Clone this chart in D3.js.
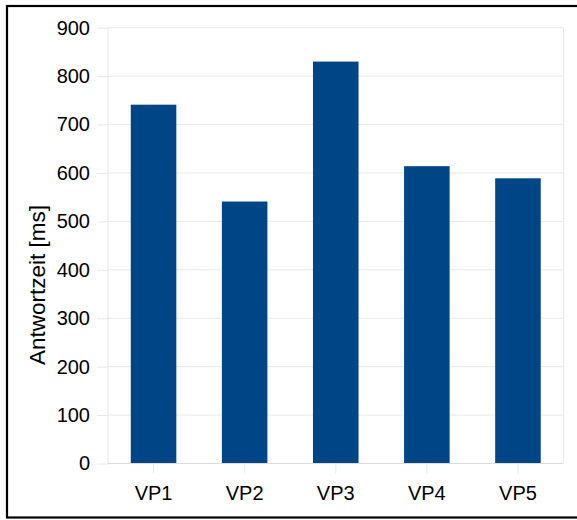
<!DOCTYPE html>
<html>
<head>
<meta charset="utf-8">
<script src="https://cdn.jsdelivr.net/npm/d3@7"></script>
<style>
  html, body { margin: 0; padding: 0; background: #fff; }
  svg { display: block; }
  text { font-family: "Liberation Sans", Arial, sans-serif; }
</style>
</head>
<body>
<svg id="chart" width="577" height="520"></svg>
<script>
const categories = ["VP1", "VP2", "VP3", "VP4", "VP5"];
const values = [741, 541, 830, 614, 589];
const yTicks = [0, 100, 200, 300, 400, 500, 600, 700, 800, 900];
const yLabel = "Antwortzeit [ms]";

const svg = d3.select("#chart");
const plot = { left: 108, right: 563.5, top: 27.7, bottom: 463.5 };

// Outer frame (right edge lies beyond visible area)
svg.append("rect")
  .attr("x", 7).attr("y", 6)
  .attr("width", 590).attr("height", 511.5)
  .attr("fill", "none").attr("stroke", "#000").attr("stroke-width", 2.2);

const x = d3.scaleBand().domain(categories)
  .range([plot.left, plot.right]).paddingInner(0.5).paddingOuter(0.25);
const y = d3.scaleLinear().domain([0, 900]).range([plot.bottom, plot.top]);

const gridColor = "#e8e8e8";

// Y ticks + labels
const yAxis = d3.axisLeft(y).tickValues(yTicks).tickSize(11).tickPadding(7).tickFormat(d3.format("d"));
const gy = svg.append("g").attr("transform", `translate(${plot.left},0)`).call(yAxis);
gy.select(".domain").remove();
gy.selectAll(".tick line").attr("stroke", gridColor);
gy.selectAll(".tick text")
  .attr("font-size", 20).attr("fill", "#000")
  .attr("font-family", "Liberation Sans, Arial, sans-serif");

// Gridlines
svg.append("g").selectAll("line").data(yTicks).join("line")
  .attr("x1", plot.left).attr("x2", plot.right)
  .attr("y1", d => y(d)).attr("y2", d => y(d))
  .attr("stroke", gridColor).attr("stroke-width", 1);

// Plot side borders
svg.append("line").attr("x1", plot.left).attr("x2", plot.left)
  .attr("y1", plot.top).attr("y2", plot.bottom).attr("stroke", gridColor);
svg.append("line").attr("x1", plot.right).attr("x2", plot.right)
  .attr("y1", plot.top).attr("y2", plot.bottom).attr("stroke", gridColor);

// Bars
svg.append("g").selectAll("rect").data(values).join("rect")
  .attr("x", (d, i) => x(categories[i]))
  .attr("y", d => y(d))
  .attr("width", x.bandwidth())
  .attr("height", d => y(0) - y(d))
  .attr("fill", "#004586");

// X axis
const xAxis = d3.axisBottom(x).tickSize(10).tickPadding(12);
const gx = svg.append("g").attr("transform", `translate(0,${plot.bottom})`).call(xAxis);
gx.select(".domain").attr("stroke", "#dcdcdc").attr("d", `M${plot.left},0H${plot.right}`);
gx.selectAll(".tick line").attr("stroke", gridColor);
gx.selectAll(".tick text")
  .attr("font-size", 20).attr("fill", "#000")
  .attr("font-family", "Liberation Sans, Arial, sans-serif");

// Y label
svg.append("text")
  .attr("transform", `translate(45,285) rotate(-90)`)
  .attr("text-anchor", "middle")
  .attr("font-size", 22.5)
  .attr("fill", "#000")
  .text(yLabel);
</script>
</body>
</html>
